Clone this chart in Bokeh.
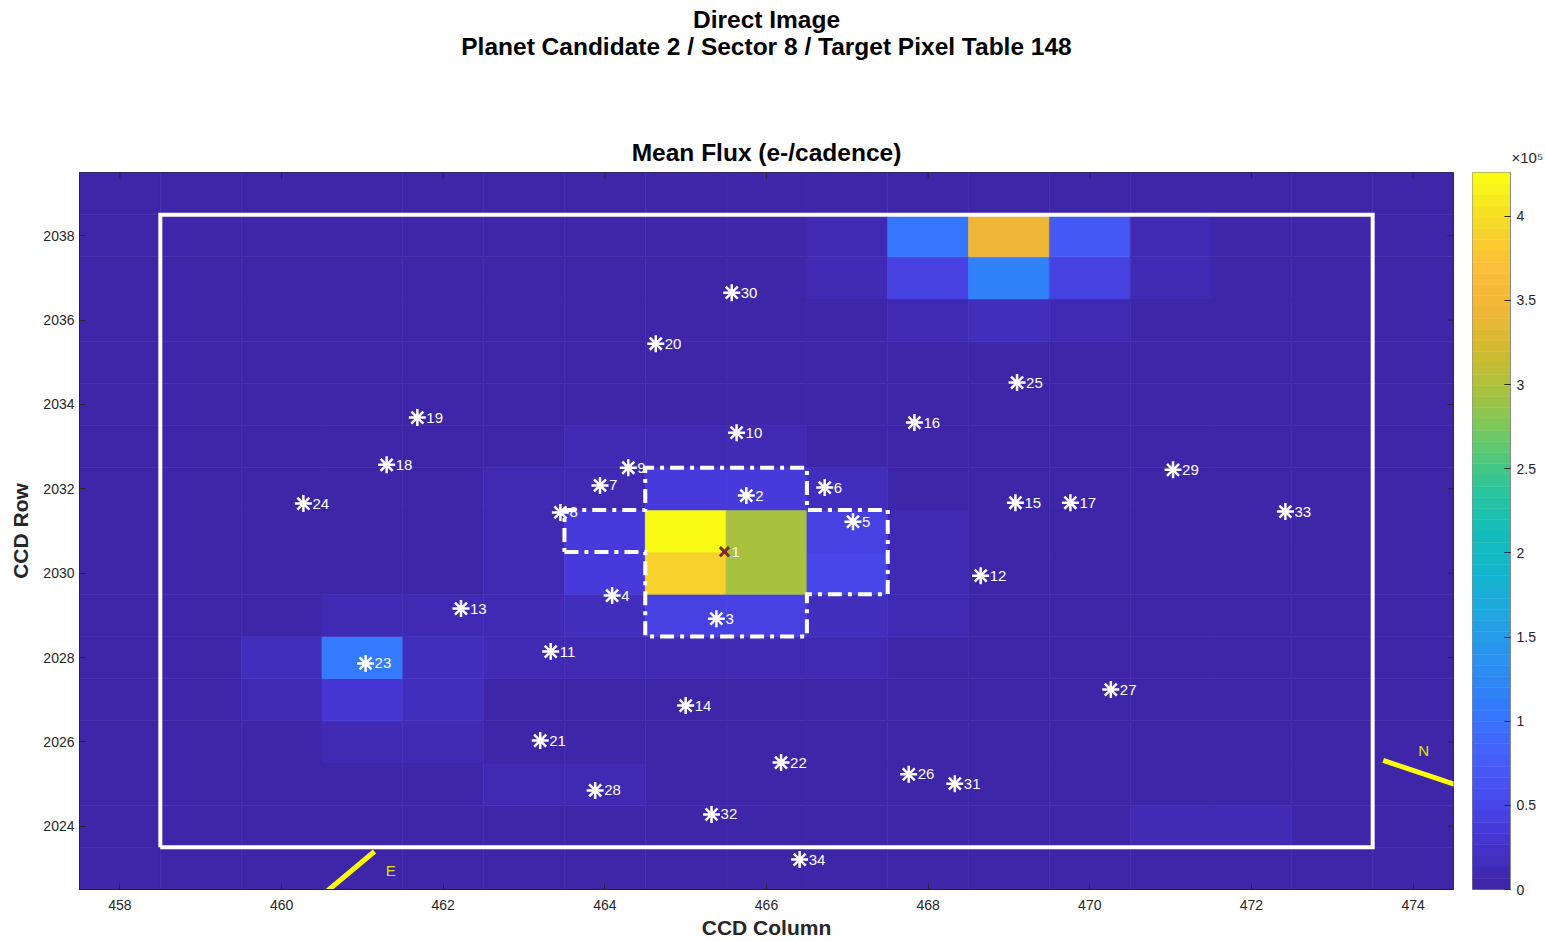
import numpy as np
from bokeh.plotting import figure
from bokeh.layouts import column, row
from bokeh.models import (ColumnDataSource, LinearColorMapper, FixedTicker, Title, Range1d)
from bokeh.core.properties import value
from bokeh.embed import file_html
from bokeh.resources import INLINE

# ---------------- data ----------------
ccd_cols = list(range(458, 475))          # CCD column of each image pixel
ccd_rows = list(range(2023, 2040))        # CCD row of each image pixel
background_flux = 1500.0                  # e-/cadence, faint sky pixels

# pixels brighter than the background (e-/cadence)
pix_col = [465, 465, 466, 466, 469, 468, 469, 461, 470, 468, 470, 461,
           465, 466, 464, 464, 467, 467, 465, 466,
           467, 467, 471, 471, 468, 469, 470,
           464, 465, 466, 463, 463, 463, 463, 464, 464, 467, 467,
           468, 468, 468, 461, 462, 460, 462, 463, 464, 465, 466, 467,
           460, 462, 461, 462, 463, 464, 471, 472]
pix_row = [2031, 2030, 2031, 2030, 2038, 2038, 2037, 2028, 2038, 2037, 2037, 2027,
           2032, 2032, 2031, 2030, 2031, 2030, 2029, 2029,
           2038, 2037, 2038, 2037, 2036, 2036, 2036,
           2033, 2033, 2033, 2032, 2031, 2030, 2029, 2032, 2029, 2032, 2029,
           2031, 2030, 2029, 2029, 2029, 2028, 2028, 2028, 2028, 2028, 2028, 2028,
           2027, 2027, 2026, 2026, 2025, 2025, 2024, 2024]
pix_flux = [426000, 387000, 298000, 298000, 345000, 106000, 119000, 107000, 68000, 43000, 43000, 30000,
            36000, 36000, 38000, 38000, 45000, 48000, 43000, 45000,
            12000, 12000, 12000, 12000, 12000, 16000, 12000,
            10000, 10000, 10000, 10000, 10000, 10000, 8000, 12000, 14000, 15000, 15000,
            12000, 12000, 10000, 8000, 8000, 15000, 17000, 8000, 8000, 8000, 8000, 8000,
            10000, 14000, 10000, 10000, 9000, 9000, 11000, 11000]

# collected pixel mask (solid outline) and optimal aperture (dashed outline)
mask_col_min, mask_col_max = 459, 473
mask_row_min, mask_row_max = 2024, 2038
aperture_col = [464, 465, 466, 465, 466, 467, 465, 466, 467, 465, 466]
aperture_row = [2031, 2032, 2032, 2031, 2031, 2031, 2030, 2030, 2030, 2029, 2029]

# target (1) and nearby catalogue objects
target_id, target_col, target_row = 1, 465.48, 2030.51
star_id = list(range(2, 35))
star_col = [465.75, 465.38, 464.09, 467.07, 466.72, 463.94, 463.45, 464.29, 465.63, 463.33,
            468.65, 462.22, 465.00, 469.08, 467.83, 469.76, 461.30, 461.68, 464.63, 463.20,
            466.18, 461.04, 460.27, 469.10, 467.76, 470.26, 463.88, 471.03, 465.57, 468.33,
            465.32, 472.42, 466.41]
star_row = [2031.84, 2028.92, 2029.47, 2031.22, 2032.03, 2032.08, 2031.44, 2032.50, 2033.33, 2028.14,
            2029.94, 2029.16, 2026.86, 2031.67, 2033.57, 2031.67, 2032.57, 2033.69, 2035.44, 2026.03,
            2025.51, 2027.86, 2031.65, 2034.52, 2025.23, 2027.24, 2024.85, 2032.45, 2036.65, 2025.01,
            2024.28, 2031.46, 2023.21]

# compass (East / North)
compass_label = ["E", "N"]
compass_x0 = [461.15, 473.63]
compass_y0 = [2023.40, 2025.56]
compass_x1 = [460.40, 474.80]
compass_y1 = [2022.20, 2024.81]
compass_lx = [461.35, 474.13]
compass_ly = [2022.95, 2025.80]

x_ticks = [458, 460, 462, 464, 466, 468, 470, 472, 474]
y_ticks = [2024, 2026, 2028, 2030, 2032, 2034, 2036, 2038]
cbar_ticks = [0, 0.5, 1, 1.5, 2, 2.5, 3, 3.5, 4]
cbar_tick_labels = ["0", "0.5", "1", "1.5", "2", "2.5", "3", "3.5", "4"]

# ---------------- parula-like colormap ----------------
par_t = [0.0, 0.0625, 0.125, 0.1875, 0.25, 0.3125, 0.375, 0.4375, 0.5, 0.5625,
         0.625, 0.6875, 0.75, 0.8125, 0.875, 0.9375, 1.0]
par_rgb = [(62, 38, 168), (69, 53, 210), (72, 76, 240), (69, 98, 252), (51, 122, 253),
           (44, 144, 240), (33, 163, 227), (19, 180, 207), (20, 190, 185), (45, 198, 155),
           (100, 201, 108), (160, 195, 67), (205, 187, 48), (240, 183, 55), (253, 190, 57),
           (245, 218, 40), (249, 251, 21)]
palette = []
for i in range(64):
    t = i / 63
    rgb = [int(round(np.interp(t, par_t, [c[k] for c in par_rgb]))) for k in range(3)]
    palette.append("#%02x%02x%02x" % tuple(rgb))

# ---------------- image grid ----------------
flux_lookup = {(c, r): f for c, r, f in zip(pix_col, pix_row, pix_flux)}
g_col, g_row, g_val = [], [], []
for c in ccd_cols:
    for r in ccd_rows:
        g_col.append(c)
        g_row.append(r)
        g_val.append(flux_lookup.get((c, r), background_flux) / 1e5)
img_src = ColumnDataSource(dict(col=g_col, row=g_row, v=g_val))
vmax = max(g_val)
mapper = LinearColorMapper(palette=palette, low=0, high=vmax)


def outline(cells):
    s = set(cells)
    edges = {}
    for (c, r) in cells:
        x0, x1, y0, y1 = c - 0.5, c + 0.5, r - 0.5, r + 0.5
        for a, b, nb in [((x0, y0), (x1, y0), (c, r - 1)), ((x1, y0), (x1, y1), (c + 1, r)),
                         ((x1, y1), (x0, y1), (c, r + 1)), ((x0, y1), (x0, y0), (c - 1, r))]:
            if nb not in s:
                edges[a] = b
    start = min(edges)
    path = [start]
    cur = edges[start]
    while cur != start:
        path.append(cur)
        cur = edges[cur]
    pts = []
    n = len(path)
    for i in range(n):
        pa, pb, pc = path[i - 1], path[i], path[(i + 1) % n]
        if (pb[0] - pa[0]) * (pc[1] - pb[1]) - (pb[1] - pa[1]) * (pc[0] - pb[0]) != 0:
            pts.append(pb)
    pts.append(pts[0])
    return [q[0] for q in pts], [q[1] for q in pts]


FONT = "Liberation Sans"
TXT = "#262626"
TFS = "24.5px"

# layout geometry (pixels)
LEFT, FW, MAIN_RIGHT = 79, 1374, 5
TOP, FH, BOTTOM = 112, 718, 51
CB_LEFT, CB_W, CB_RIGHT = 14, 38, 34
SUP_H = 60
MAIN_W = LEFT + FW + MAIN_RIGHT
CB_TOT = CB_LEFT + CB_W + CB_RIGHT
H = TOP + FH + BOTTOM

# ---------------- super title ----------------
tf = figure(width=MAIN_W + CB_TOT, height=SUP_H, x_range=Range1d(0, 1), y_range=Range1d(0, 1),
            output_backend="svg", toolbar_location=None, title=None,
            min_border_left=LEFT, min_border_right=MAIN_W + CB_TOT - LEFT - FW,
            min_border_top=SUP_H - 1, min_border_bottom=0)
tf.xaxis.visible = False
tf.yaxis.visible = False
tf.grid.visible = False
tf.outline_line_color = None
tf.add_layout(Title(text="Planet Candidate 2 / Sector 8 / Target Pixel Table 148", align="center",
                    text_font=FONT, text_font_size=TFS, text_font_style="bold",
                    text_color="black", standoff=0), "above")
tf.add_layout(Title(text="Direct Image", align="center", text_font=FONT, text_font_size=TFS,
                    text_font_style="bold", text_color="black", standoff=-4), "above")

# ---------------- main image ----------------
x0r, x1r = ccd_cols[0] - 0.5, ccd_cols[-1] + 0.5
y0r, y1r = ccd_rows[0] - 0.5, ccd_rows[-1] + 0.5
p = figure(width=MAIN_W, height=H, x_range=Range1d(x0r, x1r), y_range=Range1d(y0r, y1r),
           output_backend="svg", toolbar_location=None, title=None,
           min_border_left=LEFT, min_border_right=MAIN_RIGHT, min_border_top=TOP,
           min_border_bottom=BOTTOM)

p.rect(x="col", y="row", width=1, height=1, source=img_src,
       fill_color={"field": "v", "transform": mapper},
       line_color={"field": "v", "transform": mapper}, line_width=0.6)

star_src = ColumnDataSource(dict(x=star_col, y=star_row, lab=[str(i) for i in star_id]))
p.scatter(x="x", y="y", source=star_src, marker="asterisk", size=17,
          line_color="white", line_width=2.5)
p.text(x="x", y="y", text="lab", source=star_src, x_offset=9, text_baseline="middle",
       text_align="left", text_color="white", text_font=value(FONT), text_font_size="15px")

mask_cells = [(c, r) for c in range(mask_col_min, mask_col_max + 1)
              for r in range(mask_row_min, mask_row_max + 1)]
mx, my = outline(mask_cells)
p.line(mx, my, line_color="white", line_width=4, line_join="miter")
apx, apy = outline(list(zip(aperture_col, aperture_row)))
p.line(apx, apy, line_color="white", line_width=4, line_dash="14 6 4 6", line_join="miter")

p.scatter(x=[target_col], y=[target_row], marker="x", size=13, line_color="#7f2b2b", line_width=3)
p.text(x=[target_col], y=[target_row], text=[str(target_id)], x_offset=7, text_baseline="middle",
       text_align="left", text_color="white", text_font=value(FONT), text_font_size="15px")

p.segment(x0=compass_x0, y0=compass_y0, x1=compass_x1, y1=compass_y1,
          line_color="#ffff00", line_width=5)
p.text(x=compass_lx, y=compass_ly, text=compass_label, text_align="center",
       text_baseline="middle", text_color="#e0e000", text_font=value(FONT),
       text_font_size="15px")

# inward ticks on the top and right edges of the box
tick_dy = 6 * (y1r - y0r) / FH
tick_dx = 6 * (x1r - x0r) / FW
p.segment(x0=x_ticks, y0=[y1r] * len(x_ticks), x1=x_ticks, y1=[y1r - tick_dy] * len(x_ticks),
          line_color=TXT, line_width=1)
p.segment(x0=[x1r] * len(y_ticks), y0=y_ticks, x1=[x1r - tick_dx] * len(y_ticks), y1=y_ticks,
          line_color=TXT, line_width=1)

p.grid.visible = False
for ax in [p.xaxis[0], p.yaxis[0]]:
    ax.major_label_text_font = FONT
    ax.major_label_text_font_size = "14px"
    ax.major_label_text_color = TXT
    ax.major_tick_in = 6
    ax.major_tick_out = 0
    ax.minor_tick_line_color = None
    ax.axis_line_color = TXT
    ax.major_tick_line_color = TXT
    ax.axis_label_text_font = FONT
    ax.axis_label_text_font_size = "21px"
    ax.axis_label_text_font_style = "bold"
    ax.axis_label_text_color = TXT
p.xaxis.ticker = FixedTicker(ticks=x_ticks)
p.yaxis.ticker = FixedTicker(ticks=y_ticks)
p.xaxis.axis_label = "CCD Column"
p.yaxis.axis_label = "CCD Row"
p.xaxis.major_label_standoff = 10
p.xaxis.axis_label_standoff = 3
p.yaxis.major_label_standoff = 5
p.yaxis.axis_label_standoff = 8
p.outline_line_color = TXT

p.add_layout(Title(text="Mean Flux (e-/cadence)", align="center", text_font=FONT,
                   text_font_size=TFS, text_font_style="bold", text_color="black",
                   standoff=13), "above")

# ---------------- colour bar ----------------
cbf = figure(width=CB_TOT, height=H, x_range=Range1d(0, 1), y_range=Range1d(0, vmax),
             y_axis_location="right", output_backend="svg", toolbar_location=None, title=None,
             min_border_left=CB_LEFT, min_border_right=CB_RIGHT, min_border_top=TOP,
             min_border_bottom=BOTTOM)
edges_ = [vmax * i / len(palette) for i in range(len(palette) + 1)]
cbf.quad(left=0, right=1, bottom=edges_[:-1], top=edges_[1:], fill_color=palette,
         line_color=palette, line_width=0.5)
cbf.xaxis.visible = False
cbf.grid.visible = False
cbf.outline_line_color = "#8a8a8a"
cax = cbf.yaxis[0]
cax.ticker = FixedTicker(ticks=cbar_ticks)
cax.major_label_overrides = {t: l for t, l in zip(cbar_ticks, cbar_tick_labels)}
cax.major_label_text_font = FONT
cax.major_label_text_font_size = "14px"
cax.major_label_text_color = TXT
cax.major_tick_in = 6
cax.major_tick_out = 0
cax.minor_tick_line_color = None
cax.axis_line_color = "#8a8a8a"
cax.major_tick_line_color = TXT
cax.major_label_standoff = 6
cbf.add_layout(Title(text="\u00d710\u2075", align="left", offset=CB_W + 1, text_font=FONT,
                     text_font_size="15px", text_font_style="normal", text_color=TXT,
                     standoff=14), "above")

layout = column(tf, row(p, cbf))
open("out.html", "w").write(file_html(layout, INLINE))
